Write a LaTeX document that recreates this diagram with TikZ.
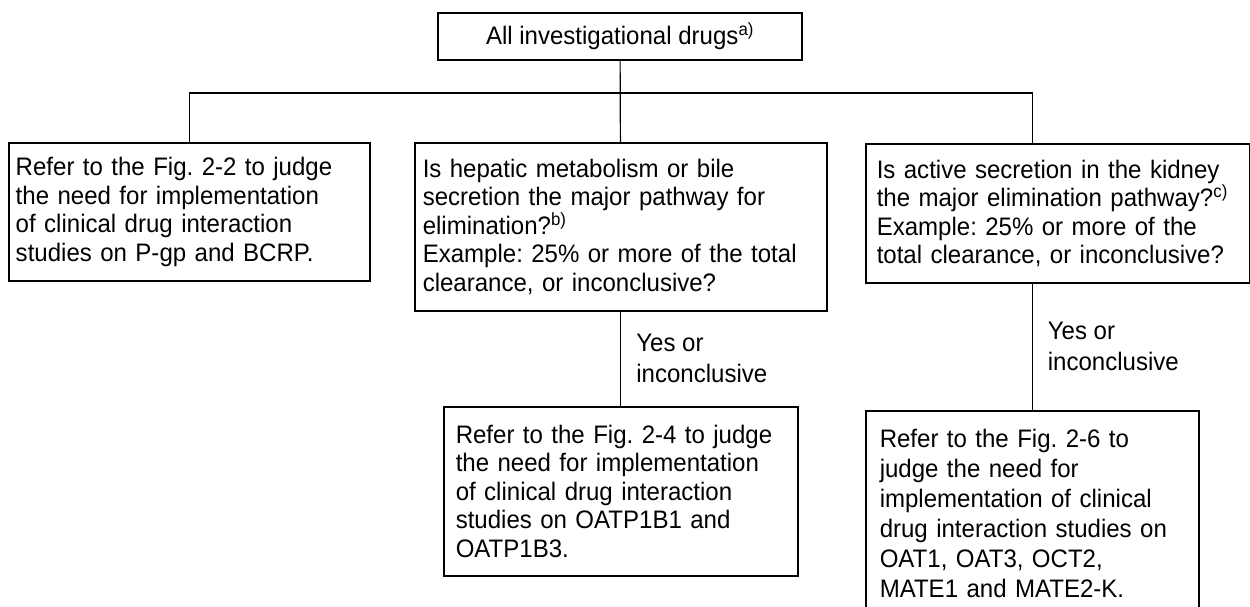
\documentclass[tikz,border=0pt]{standalone}
\usepackage{fontspec}
\setmainfont{Liberation Sans}[FakeStretch=0.95]
\frenchspacing

\begin{document}
\begin{tikzpicture}[x=1pt,y=-1pt,
	txt/.style={font=\fontsize{25.3}{28.5}\selectfont},
	box/.style={draw,line width=1.5pt,txt,align=left,anchor=north west,inner xsep=#1,inner ysep=0pt},
	box/.default=14pt,
	link/.style={line width=1.2pt},
	yes/.style={anchor=west,xshift=15pt,inner sep=0pt,align=left,font=\fontsize{25.3}{31}\selectfont}]
		\useasboundingbox (0,0) rectangle (1250,606);
		\node[draw,line width=1.5pt,txt,minimum width=364pt,minimum height=47pt,inner sep=0pt] (alldrugs) at (620,36.5) {All investigational drugs\textsuperscript{a)}};
		\node[box=7pt,text width=347pt,minimum height=138pt] (refpgp) at (8,142) {Refer to the Fig. 2-2 to judge\\the need for implementation\\of clinical drug interaction\\studies on P-gp and BCRP.};
		\node[box=8pt,text width=396pt,minimum height=168pt] (hepatic) at (414,142) {Is hepatic metabolism or bile\\secretion the major pathway for\\elimination?\textsuperscript{b)}\\Example: 25\% or more of the total\\clearance, or inconclusive?};
		\node[box=11pt,text width=362pt,minimum height=139pt] (renal) at (865,143) {Is active secretion in the kidney\\the major elimination pathway?\textsuperscript{c)}\\Example: 25\% or more of the\\total clearance, or inconclusive?};
		\node[box=12pt,text width=330pt,minimum height=169pt] (oatp) at (443,406) {Refer to the Fig. 2-4 to judge\\the need for implementation\\of clinical drug interaction\\studies on OATP1B1 and\\OATP1B3.};
		\node[box,text width=305pt,minimum height=205pt,font=\fontsize{25.3}{30}\selectfont] (oatoct) at (865,410) {Refer to the Fig. 2-6 to\\judge the need for\\implementation of clinical\\drug interaction studies on\\OAT1, OAT3, OCT2,\\MATE1 and MATE2-K.};
		\coordinate (bus) at (620,93);
		\draw[link] (alldrugs) -- (hepatic);
		\draw[link] (refpgp.north) |- (bus) -| (renal.north -| oatoct.north);
		\draw[link] (hepatic) -- node[yes] (yes1) {Yes or\\inconclusive} (oatp);
		\draw[link] (renal.south -| oatoct.north) -- node[yes] (yes2) {Yes or\\inconclusive} (oatoct.north);
\end{tikzpicture}
\end{document}
